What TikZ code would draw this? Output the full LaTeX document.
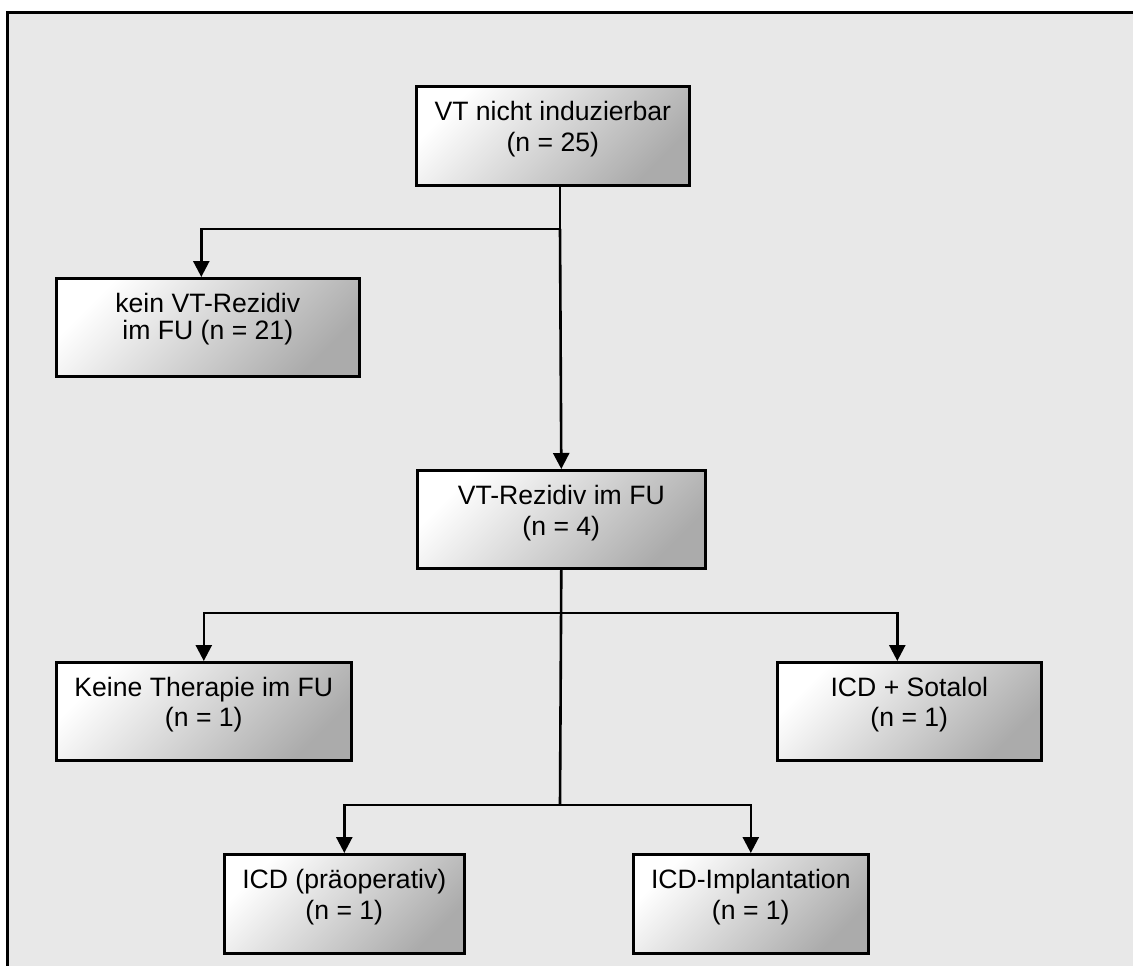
\documentclass[tikz,border=0pt]{standalone}
\usepackage{fontspec}
\setmainfont{Liberation Sans}
\usetikzlibrary{arrows.meta}
\definecolor{bggray}{RGB}{232,232,232}
\newcommand{\twolines}[2]{\begin{tabular}[t]{@{}c@{}}#1\\#2\end{tabular}}
\begin{document}
\begin{tikzpicture}[x=1pt,y=-1pt,
  box/.style={draw=black, line width=2.6pt, top color=white, middle color=black!11, bottom color=black!33,
    shading angle=45, inner sep=0pt, anchor=north west,
    font=\fontsize{26.6}{31.5}\selectfont, text height=34pt},
  ln/.style={line width=2.6pt},
  arr/.style={line width=2.6pt, -{Triangle[length=16pt,width=16pt]}}]
\useasboundingbox (0,0) rectangle (1133,966);
\fill[bggray] (7,13) rectangle (1133,966);
\draw[line width=3pt] (7,966) -- (7,13) -- (1133,13);

\node[box, minimum width=273pt, text depth=65pt] (b1) at (415,85) {\twolines{VT nicht induzierbar}{(n = 25)}};
\node[box, minimum width=303pt, text depth=64pt, font=\fontsize{26.6}{25}\selectfont] (kein) at (55,277) {\twolines{kein VT-Rezidiv}{im FU (n = 21)}};
\node[box, minimum width=288pt, text depth=64pt] (rez) at (416,469) {\twolines{VT-Rezidiv im FU}{(n = 4)}};
\node[box, minimum width=295pt, text depth=64pt, font=\fontsize{26.6}{30.5}\selectfont] (keine) at (55,661) {\twolines{Keine Therapie im FU}{(n = 1)}};
\node[box, minimum width=264pt, text depth=64pt, font=\fontsize{26.6}{30.5}\selectfont] (sot) at (776,661) {\twolines{ICD + Sotalol}{(n = 1)}};
\node[box, minimum width=240pt, text depth=65pt] (pre) at (223,853) {\twolines{ICD (präoperativ)}{(n = 1)}};
\node[box, minimum width=235pt, text depth=65pt] (impl) at (632,853) {\twolines{ICD-Implantation}{(n = 1)}};

\coordinate (j1) at (560,229);
\coordinate (j2) at (560,613);
\coordinate (j3) at (560,805);

\draw[ln] (b1.south -| j1) -- (j1);
\draw[arr] (j1) -- (rez.north);
\draw[arr] (j1) -| ([xshift=-6.5pt]kein.north);
\draw[ln] (rez.south) -- (j3);
\draw[arr] (j2) -| (keine.north);
\draw[arr] (j2) -| ([xshift=-12pt]sot.north);
\draw[arr] (j3) -| (pre.north);
\draw[arr] (j3) -| (impl.north);
\end{tikzpicture}
\end{document}
